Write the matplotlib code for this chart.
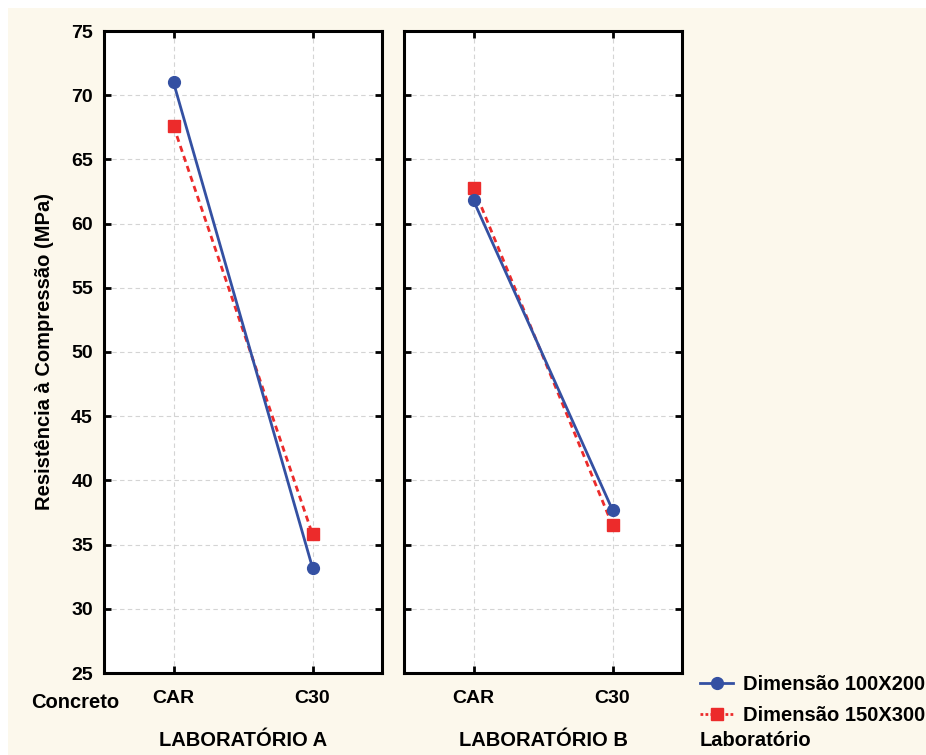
import matplotlib.pyplot as plt
from matplotlib.patches import Rectangle
from matplotlib.lines import Line2D

plt.rcParams['font.family'] = ['Liberation Sans', 'DejaVu Sans']
plt.rcParams['font.weight'] = 'bold'

# data
concretos = ['CAR', 'C30']
laboratorios = ['LABORATÓRIO A', 'LABORATÓRIO B']
dim_100x200 = [[71.0, 33.2], [61.8, 37.7]]   # por laboratorio
dim_150x300 = [[67.6, 35.8], [62.8, 36.5]]
y_ticks = [25, 30, 35, 40, 45, 50, 55, 60, 65, 70, 75]

blue = '#3450a2'
red = '#ec2b2b'
cream = '#fcf8ec'
fs = 14.5

W, H = 926, 755
fig = plt.figure(figsize=(W / 100, H / 100), dpi=100, facecolor='white')
fig.patches.append(Rectangle((8 / W, 0), 1, (H - 8) / H, transform=fig.transFigure,
                             facecolor=cream, edgecolor='none', zorder=-10))

lefts = [104, 404]
for k, lab in enumerate(laboratorios):
    ax = fig.add_axes([lefts[k] / W, (H - 673) / H, 278 / W, 642 / H])
    x = range(len(concretos))
    ax.plot(x, dim_150x300[k], color=red, ls=(0, (2.2, 1.6)), lw=2, marker='s', ms=9,
            mec=red, mfc=red, zorder=3)
    ax.plot(x, dim_100x200[k], color=blue, ls='-', lw=2, marker='o', ms=8.5,
            mec=blue, mfc=blue, zorder=4)
    ax.set_xlim(-0.5, 1.5)
    ax.set_ylim(25, 75)
    ax.set_yticks(y_ticks)
    ax.set_xticks(list(x))
    ax.set_xticklabels(concretos)
    ax.grid(True, ls=(0, (4, 3)), color='#d4d4d4', lw=0.8)
    ax.set_axisbelow(True)
    for s in ax.spines.values():
        s.set_linewidth(2.2)
    ax.tick_params(direction='in', length=5, width=2, top=True, right=True,
                   labelsize=14, pad=8)
    ax.tick_params(axis='x', pad=12)
    if k == 0:
        ax.set_ylabel('Resistência à Compressão (MPa)', fontsize=fs, fontweight='bold',
                      labelpad=12)
    else:
        ax.set_yticklabels([])
    fig.text((lefts[k] + 139) / W, 1 - 740 / H, lab, ha='center', va='center', fontsize=fs)

fig.text(75 / W, 1 - 703 / H, 'Concreto', ha='center', va='center', fontsize=fs)
fig.text(700 / W, 1 - 740 / H, 'Laboratório', ha='left', va='center', fontsize=fs)

handles = [
    Line2D([], [], color=blue, lw=2, marker='o', ms=8.5),
    Line2D([], [], color=red, lw=2, ls=(0, (1, 0.8)), marker='s', ms=9),
]
fig.legend(handles, ['Dimensão 100X200', 'Dimensão 150X300'], loc='upper left',
           bbox_to_anchor=(700 / W, 1 - 675 / H), frameon=False, fontsize=fs,
           handlelength=1.65, handletextpad=0.5, labelspacing=0.6, borderaxespad=0,
           borderpad=0)

fig.savefig('out.png', dpi=100, facecolor=fig.get_facecolor())
